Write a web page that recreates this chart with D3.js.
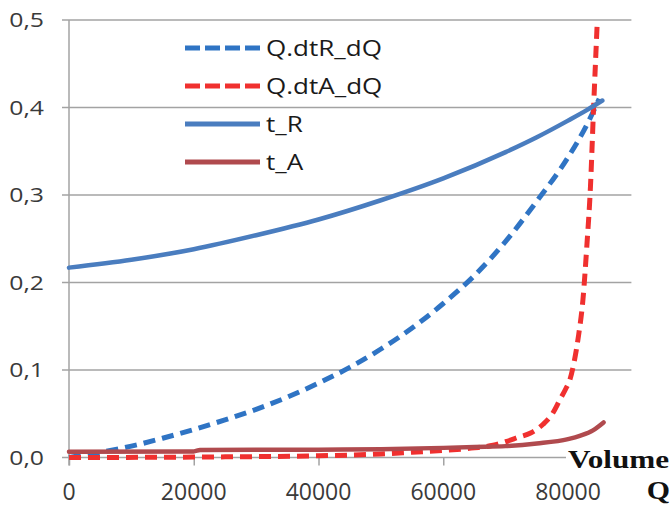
<!DOCTYPE html>
<html>
<head>
<meta charset="utf-8">
<script src="https://cdn.jsdelivr.net/npm/d3@7"></script>
<style>
    body { margin: 0; background: #fff; }
    svg { display: block; }
</style>
</head>
<body>
<div id="chart"></div>
<script>
// Valeurs
const qR = [0, 10000, 20000, 30000, 40000, 50000, 60000, 70000, 75000, 80000, 83000, 85500];
const tR = [0.217, 0.226, 0.238, 0.254, 0.272, 0.294, 0.319, 0.349, 0.366, 0.385, 0.397, 0.408];

const qDtR = [0, 5000, 10000, 15000, 20000, 25000, 30000, 35000, 40000, 45000, 50000, 55000, 60000, 65000, 70000, 75000, 80000, 83000, 85000];
const dtR = [0, 0.006, 0.013, 0.022, 0.032, 0.043, 0.055, 0.069, 0.085, 0.103, 0.124, 0.148, 0.176, 0.208, 0.247, 0.293, 0.343, 0.38, 0.41];

const qDtA = [0, 20000, 40000, 50000, 55000, 60000, 65000, 68000, 70000, 72000, 74000, 76000, 77500, 78700, 79600, 80300, 81000, 81700, 82400, 83000, 83600, 84100, 84700];
const dtA = [0, 0.0005, 0.002, 0.004, 0.006, 0.008, 0.011, 0.014, 0.018, 0.023, 0.028, 0.038, 0.05, 0.066, 0.078, 0.089, 0.11, 0.14, 0.181, 0.24, 0.31, 0.4, 0.5];

const qA = [0, 20000, 21000, 40000, 50000, 60000, 65000, 70000, 75000, 80000, 82000, 84000, 85700];
const tA = [0.0065, 0.007, 0.0085, 0.009, 0.0095, 0.011, 0.012, 0.013, 0.016, 0.021, 0.025, 0.031, 0.04];

const xTicks = [0, 20000, 40000, 60000, 80000];
const yTicks = [0, 0.1, 0.2, 0.3, 0.4, 0.5];

const series = [
    { name: 'Q.dtR_dQ', q: qDtR, v: dtR, color: '#2f74c4', dash: true },
    { name: 'Q.dtA_dQ', q: qDtA, v: dtA, color: '#f0302f', dash: true },
    { name: 't_R', q: qR, v: tR, color: '#4a7dbf', dash: false },
    { name: 't_A', q: qA, v: tA, color: '#b04a4e', dash: false }
];

const width = 671, height = 507;
const x = d3.scaleLinear().domain([0, 90000]).range([69, 630.4]);
const y = d3.scaleLinear().domain([0, 0.5]).range([457.5, 20]);

const svg = d3.select('#chart').append('svg')
    .attr('width', width)
    .attr('height', height);

const fmtY = d => d3.format('.1f')(d).replace('.', ',');

// Grille horizontale
svg.append('g')
    .selectAll('line')
    .data(yTicks)
    .enter()
    .append('line')
    .attr('x1', 62)
    .attr('x2', x.range()[1] + 1)
    .attr('y1', d => y(d))
    .attr('y2', d => y(d))
    .attr('stroke', '#a3a3a3')
    .attr('stroke-width', 1.5);

// Axe vertical
svg.append('line')
    .attr('x1', x(0)).attr('x2', x(0))
    .attr('y1', y(0.5)).attr('y2', y(0) + 8)
    .attr('stroke', '#a3a3a3')
    .attr('stroke-width', 1.5);

// Graduations de l'axe X
const xAxis = svg.append('g')
    .attr('transform', `translate(0,${y(0)})`)
    .call(d3.axisBottom(x).tickValues(xTicks).tickSize(8).tickFormat(''));
xAxis.select('.domain').remove();
xAxis.selectAll('line').attr('stroke', '#a3a3a3').attr('stroke-width', 1.5);

svg.append('g')
    .selectAll('text')
    .data(xTicks)
    .enter()
    .append('text')
    .attr('x', d => x(d))
    .attr('y', y(0) + 42)
    .attr('text-anchor', 'middle')
    .attr('fill', '#3a3a3a')
    .style('font-family', '"Open Sans", sans-serif')
    .style('font-size', '23px')
    .text(d => d);

svg.append('g')
    .selectAll('text')
    .data(yTicks)
    .enter()
    .append('text')
    .attr('transform', d => `translate(44,${y(d) + 7}) scale(1.24,1)`)
    .attr('text-anchor', 'end')
    .attr('fill', '#3a3a3a')
    .style('font-family', '"Open Sans", sans-serif')
    .style('font-size', '20px')
    .text(fmtY);

// Courbes
const line = d3.line()
    .x(d => x(d[0]))
    .y(d => y(d[1]))
    .curve(d3.curveMonotoneX);

svg.append('g')
    .selectAll('path')
    .data(series)
    .enter()
    .append('path')
    .attr('d', s => line(s.q.map((q, i) => [q, s.v[i]])))
    .attr('fill', 'none')
    .attr('stroke', s => s.color)
    .attr('stroke-width', s => s.dash ? 5 : 4.5)
    .attr('stroke-dasharray', s => s.dash ? '12,7' : null)
    .attr('stroke-linejoin', 'round')
    .attr('stroke-linecap', s => s.dash ? 'butt' : 'round');

// Légende
const legend = svg.append('g')
    .selectAll('g')
    .data(series)
    .enter()
    .append('g')
    .attr('transform', (d, i) => `translate(185,${48 + i * 38})`);

legend.append('line')
    .attr('x1', 0).attr('x2', 75)
    .attr('stroke', d => d.color)
    .attr('stroke-width', 5)
    .attr('stroke-dasharray', d => d.dash ? '15,5' : null)
    .attr('stroke-linecap', 'butt');

legend.append('text')
    .attr('transform', 'translate(81,8) scale(1.24,1)')
    .attr('fill', '#1a1a1a')
    .style('font-family', '"Open Sans", sans-serif')
    .style('font-size', '21px')
    .text(d => d.name);

// Titre de l'axe
svg.append('rect')
    .attr('x', 566).attr('y', 449)
    .attr('width', 105).attr('height', 24)
    .attr('fill', '#fff');

svg.append('text')
    .attr('transform', 'translate(568,468) scale(1.2,1)')
    .attr('fill', '#111')
    .style('font-family', '"Liberation Serif", serif')
    .style('font-weight', 'bold')
    .style('font-size', '26px')
    .text('Volume');

svg.append('text')
    .attr('transform', 'translate(670,499) scale(1.15,1)')
    .attr('text-anchor', 'end')
    .attr('fill', '#111')
    .style('font-family', '"Liberation Serif", serif')
    .style('font-weight', 'bold')
    .style('font-size', '26px')
    .text('Q');
</script>
</body>
</html>
